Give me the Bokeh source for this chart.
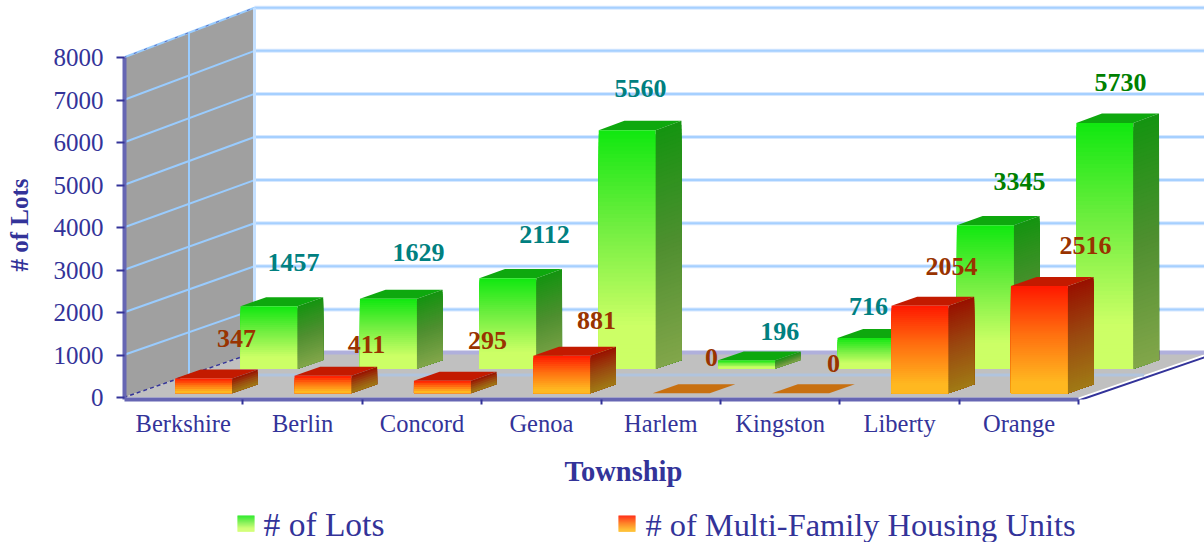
from bokeh.plotting import figure
from bokeh.layouts import column
from bokeh.models import ColumnDataSource, FixedTicker
from bokeh.core.properties import value
from bokeh.embed import file_html
from bokeh.resources import INLINE

townships = ["Berkshire", "Berlin", "Concord", "Genoa", "Harlem", "Kingston", "Liberty", "Orange"]
lots = [1457, 1629, 2112, 5560, 196, 716, 3345, 5730]
units = [347, 411, 295, 881, 0, 0, 2054, 2516]
value_ticks = [0, 1000, 2000, 3000, 4000, 5000, 6000, 7000, 8000]
legend_names = ["# of Lots", "# of Multi-Family Housing Units"]

# layout -------------------------------------------------------------------
SERIF = "Liberation Serif"
NAVY = "#333399"
PX_X = 119.4      # px per category
PX_Y = 0.0425     # px per value unit
X0, Y0 = 123, 397 # page px of the origin
DEPTH_X = 131 / PX_X
DEPTH_Y = 45 / PX_Y
PERSP = 0.014
BAR_W = 57 / PX_X
BAR_D = 0.196
MAIN_H = 455

def page_x(px): return (px - X0) / PX_X
def page_y(py): return (Y0 - py) / PX_Y
def proj(x, t, v): return x + t * DEPTH_X, v * (1 + PERSP * t) + t * DEPTH_Y

p = figure(width=1204, height=MAIN_H, output_backend="svg", toolbar_location=None,
           x_range=(page_x(124), page_x(1204)), y_range=(page_y(399), page_y(0)),
           min_border_left=124, min_border_right=0, min_border_top=0, min_border_bottom=MAIN_H - 399,
           outline_line_color=None, background_fill_color="white", border_fill_color="white")
p.grid.visible = False

# axes
ya = p.yaxis[0]
ya.ticker = FixedTicker(ticks=value_ticks)
ya.bounds = (page_y(399), 8000)
ya.axis_line_color = "#6666b3"; ya.axis_line_width = 4
ya.major_tick_line_color = NAVY; ya.major_tick_line_width = 2
ya.major_tick_out = 8; ya.major_tick_in = 0
ya.minor_tick_line_color = None
ya.major_label_text_font = SERIF; ya.major_label_text_font_size = "25px"
ya.major_label_text_color = NAVY; ya.major_label_standoff = 13
# no-break spaces after the text move the centred label down along the axis
ya.axis_label = "# of Lots" + "\u00a0" * 8
ya.axis_label_text_font = SERIF
ya.axis_label_text_font_size = "25px"; ya.axis_label_text_font_style = "bold"
ya.axis_label_text_color = NAVY; ya.axis_label_standoff = 18

xa = p.xaxis[0]
xa.ticker = FixedTicker(ticks=[i + 0.5 for i in range(len(townships))],
                        minor_ticks=list(range(len(townships) + 1)))
xa.major_label_overrides = {i + 0.5: t for i, t in enumerate(townships)}
xa.bounds = (0, len(townships))
xa.axis_line_color = "#6666b3"; xa.axis_line_width = 4
xa.major_tick_line_color = None
xa.minor_tick_line_color = NAVY; xa.minor_tick_line_width = 2
xa.minor_tick_out = 5; xa.minor_tick_in = 0
xa.major_tick_out = 5; xa.major_tick_in = 0
xa.major_label_text_font = SERIF; xa.major_label_text_font_size = "24.5px"
xa.major_label_text_color = NAVY; xa.major_label_standoff = 5

n = len(townships)
# walls
wx, wy = zip(proj(0, 0, 0), proj(0, 1, 0), proj(0, 1, 8000), proj(0, 0, 8000))
p.patch(list(wx), list(wy), fill_color="#a0a0a0", line_color=None)
fx, fy = zip(proj(0, 0, 0), proj(n, 0, 0), proj(n, 1, 0), proj(0, 1, 0))
p.patch(list(fx), list(fy), fill_color="#c0c0c0", line_color=None)

# grid
for v in value_ticks[1:]:
    a, b, c = proj(0, 0, v), proj(0, 1, v), proj(n + 1, 1, v)
    p.line([b[0], c[0]], [b[1], c[1]], line_color="#d6e8ff", line_width=4)
    p.line([b[0], c[0]], [b[1], c[1]], line_color="#a6d0ff", line_width=2)
    p.line([a[0], b[0]], [a[1], b[1]], line_color="#99ccff", line_width=2)
a, b = proj(0, 0, 8000), proj(0, 1, 8000)
p.line([a[0], b[0]], [a[1], b[1]], line_color=NAVY, line_width=1, line_dash="3 8", line_alpha=0.6)
a, b = proj(0, .5, 0), proj(0, .5, 8000)
p.line([a[0], b[0]], [a[1], b[1]], line_color="#99ccff", line_width=2)
a, b = proj(0, 1, 0), proj(0, 1, 8000)
p.line([a[0], b[0]], [a[1], b[1]], line_color="#c4e0ff", line_width=3)
a, b = proj(0, 1, 0), proj(n + 1, 1, 0)
p.line([a[0], b[0]], [a[1], b[1]], line_color="#b0b0dc", line_width=4)
a, b = proj(0, .5, 0), proj(n, .5, 0)
p.line([a[0], b[0]], [a[1], b[1]], line_color="#b0c4de", line_width=3)
# floor edges
a, b = proj(0, 0, 0), proj(0, 1, 0)
p.line([a[0], b[0]], [a[1], b[1]], line_color=NAVY, line_width=1.5, line_dash="4 3")
a, b = proj(n, 0, page_y(400)), proj(n, 1, page_y(400))
p.line([a[0], b[0]], [a[1], b[1]], line_color=NAVY, line_width=2)

def hx(c): return tuple(int(c[i:i + 2], 16) for i in (1, 3, 5))
def ramp(stops, f):
    for (f0, c0), (f1, c1) in zip(stops, stops[1:]):
        if f <= f1:
            k = (f - f0) / (f1 - f0) if f1 > f0 else 0
            return "#%02x%02x%02x" % tuple(round(a + (b - a) * k) for a, b in zip(hx(c0), hx(c1)))
    return stops[-1][1]

GREEN = dict(front=[(0, "#10e810"), (.4, "#70ee40"), (.82, "#ccff66"), (1, "#ccff66")],
             side=[(0, "#149410"), (.5, "#4f8f30"), (1, "#82a64a")], top="#0ea80e")
RED = dict(front=[(0, "#ff1800"), (.45, "#ff7010"), (.9, "#ffb820"), (1, "#ffb820")],
           side=[(0, "#991000"), (.5, "#9a4a10"), (1, "#a07a15")], top="#c31a00", flat="#c87010")

def bars(vals, x0, t0, style):
    xs, ys, cs = [], [], []
    def add(pts, c):
        xs.append([q[0] for q in pts]); ys.append([q[1] for q in pts]); cs.append(c)
    for i, v in enumerate(vals):
        l, r = i + x0, i + x0 + BAR_W
        t1 = t0 + BAR_D
        if v == 0:
            add([proj(l, t0, 0), proj(r, t0, 0), proj(r, t1, 0), proj(l, t1, 0)], style["flat"])
            continue
        add([proj(l, t0, v), proj(r, t0, v), proj(r, t1, v), proj(l, t1, v)], style["top"])
        steps = max(6, min(60, int(v * PX_Y / 2)))
        for k in range(steps):
            # each band runs down to the base, so that the next one overpaints it without seams
            f = k / steps
            va = v * (1 - f)
            add([proj(l, t0, va), proj(r, t0, va), proj(r, t0, 0), proj(l, t0, 0)],
                ramp(style["front"], f + .5 / steps))
            add([proj(r, t0, va), proj(r, t1, va), proj(r, t1, 0), proj(r, t0, 0)],
                ramp(style["side"], f + .5 / steps))
    p.patches("xs", "ys", source=ColumnDataSource(dict(xs=xs, ys=ys, c=cs)),
              fill_color="c", line_color=None)

GREEN_X, GREEN_T = 0.278, 0.64
RED_X, RED_T = 0.327, 0.096
bars(lots, GREEN_X, GREEN_T, GREEN)
bars(units, RED_X, RED_T, RED)

# data labels: anchored at the centre of each bar's front top edge, then nudged (px)
lot_nudge = [(24.5, 43.7), (30, 46), (36.7, 43.6), (13.3, 41.8), (33, 28.8), (2.5, 31.5), (34, 43.8), (15.7, 40.5)]
unit_nudge = [(33, 40), (43.5, 31), (45, 40), (34.7, 35), (30.3, 35.7), (33, 29.7), (31.5, 39), (46, 40.6)]
lot_colors = ["#008080"] * 6 + ["#008000"] * 2
unit_colors = ["#993300"] * len(units)

def labels(vals, x0, t0, nudge, colors):
    pts = [proj(i + x0 + BAR_W / 2, t0, v) for i, v in enumerate(vals)]
    src = ColumnDataSource(dict(x=[q[0] for q in pts], y=[q[1] for q in pts],
                                t=[str(v) for v in vals],
                                dx=[a for a, _ in nudge], dy=[-b for _, b in nudge], c=colors))
    p.text("x", "y", text="t", source=src, x_offset="dx", y_offset="dy", text_color="c",
           text_align="center", text_baseline="middle", text_font=value(SERIF),
           text_font_style="bold", text_font_size="26px")

labels(lots, GREEN_X, GREEN_T, lot_nudge, lot_colors)
labels(units, RED_X, RED_T, unit_nudge, unit_colors)

# lower strip: axis title and legend, on a pixel scale measured from the page's top left.
# The column lines its frame up with the main figure's frame.
H2 = 542 - MAIN_H
q = figure(width=1204, height=H2, output_backend="svg", toolbar_location=None,
           x_range=(124, 1204), y_range=(542, MAIN_H), x_axis_type=None, y_axis_type=None,
           min_border=0, min_border_left=124, outline_line_color=None, border_fill_color="white")
q.grid.visible = False
q.text([623], [471], text=["Township"], text_font=value(SERIF), text_font_size="28.5px",
       text_font_style="bold", text_color=NAVY, text_align="center", text_baseline="middle")

def swatch(left, stops):
    top, bottom = 515, 531
    rows = list(range(top, bottom))
    q.quad(left=left, right=left + 17, top=rows, bottom=[r + 1.3 for r in rows],
           fill_color=[ramp(stops, (r + .5 - top) / (bottom - top)) for r in rows], line_color=None)

swatch(237, GREEN["front"])
swatch(618, RED["front"])
for left, name, size in zip((263, 645), legend_names, ("33.5px", "32.4px")):
    q.text([left], [524], text=[name], text_font=value(SERIF), text_font_size=size,
           text_color=NAVY, text_align="left", text_baseline="middle")

open("out.html", "w").write(file_html(column(p, q, spacing=0), INLINE))
